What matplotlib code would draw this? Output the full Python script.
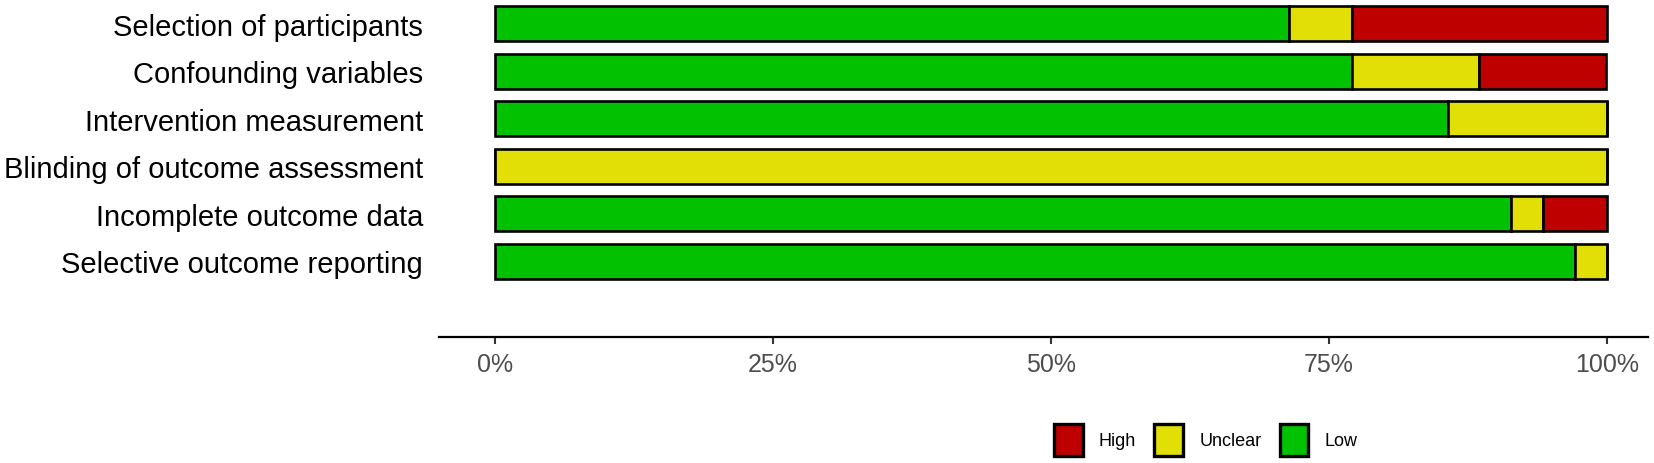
#!/usr/bin/env python3
"""Risk of bias summary - stacked horizontal bars"""
import matplotlib
matplotlib.use("Agg")
import matplotlib.pyplot as plt
from matplotlib.patches import Patch
from matplotlib.ticker import PercentFormatter

domains = [
    "Selection of participants",
    "Confounding variables",
    "Intervention measurement",
    "Blinding of outcome assessment",
    "Incomplete outcome data",
    "Selective outcome reporting",
]
low = [71.4, 77.1, 85.7, 0.0, 91.4, 97.1]
unclear = [5.7, 11.4, 14.3, 100.0, 2.9, 2.9]
high = [22.9, 11.4, 0.0, 0.0, 5.7, 0.0]

colors = {"Low": "#02C100", "Unclear": "#E2DF07", "High": "#BF0000"}

plt.rcParams["font.family"] = ["Liberation Sans", "DejaVu Sans"]

fig = plt.figure(figsize=(16.54, 4.64), dpi=100)
ax = fig.add_axes([0.2654, 0.2722, 0.731, 0.7278])

ypos = list(range(len(domains)))
left = [0.0] * len(domains)
for name, vals in (("Low", low), ("Unclear", unclear), ("High", high)):
    frac = [v / 100 for v in vals]
    ax.barh(ypos, frac, height=0.74, left=left, color=colors[name],
            edgecolor="black", linewidth=1.9)
    left = [a + b for a, b in zip(left, frac)]

ax.set_xlim(-0.05, 1.037)
ax.set_ylim(6.59, -0.52)
ax.set_yticks(ypos)
ax.set_yticklabels(domains, fontsize=21, color="black")
ax.tick_params(axis="y", length=0, pad=11.5)
ax.set_xticks([0, 0.25, 0.5, 0.75, 1.0])
ax.xaxis.set_major_formatter(PercentFormatter(1.0, decimals=0))
ax.tick_params(axis="x", length=5, width=1.5, color="#333333",
               labelsize=18, labelcolor="#4d4d4d", pad=6)

for s in ("top", "right", "left"):
    ax.spines[s].set_visible(False)
ax.spines["bottom"].set_linewidth(1.6)
ax.spines["bottom"].set_color("black")

handles = [Patch(facecolor=colors[k], edgecolor="black", linewidth=2.4, label=k)
           for k in ("High", "Unclear", "Low")]
fig.legend(handles=handles, loc="center", bbox_to_anchor=(0.729, 0.05),
           ncol=3, frameon=False, fontsize=13, handlelength=1.6,
           handleheight=2.3, handletextpad=0.9, columnspacing=1.0)

fig.savefig("out.png", dpi=100)
